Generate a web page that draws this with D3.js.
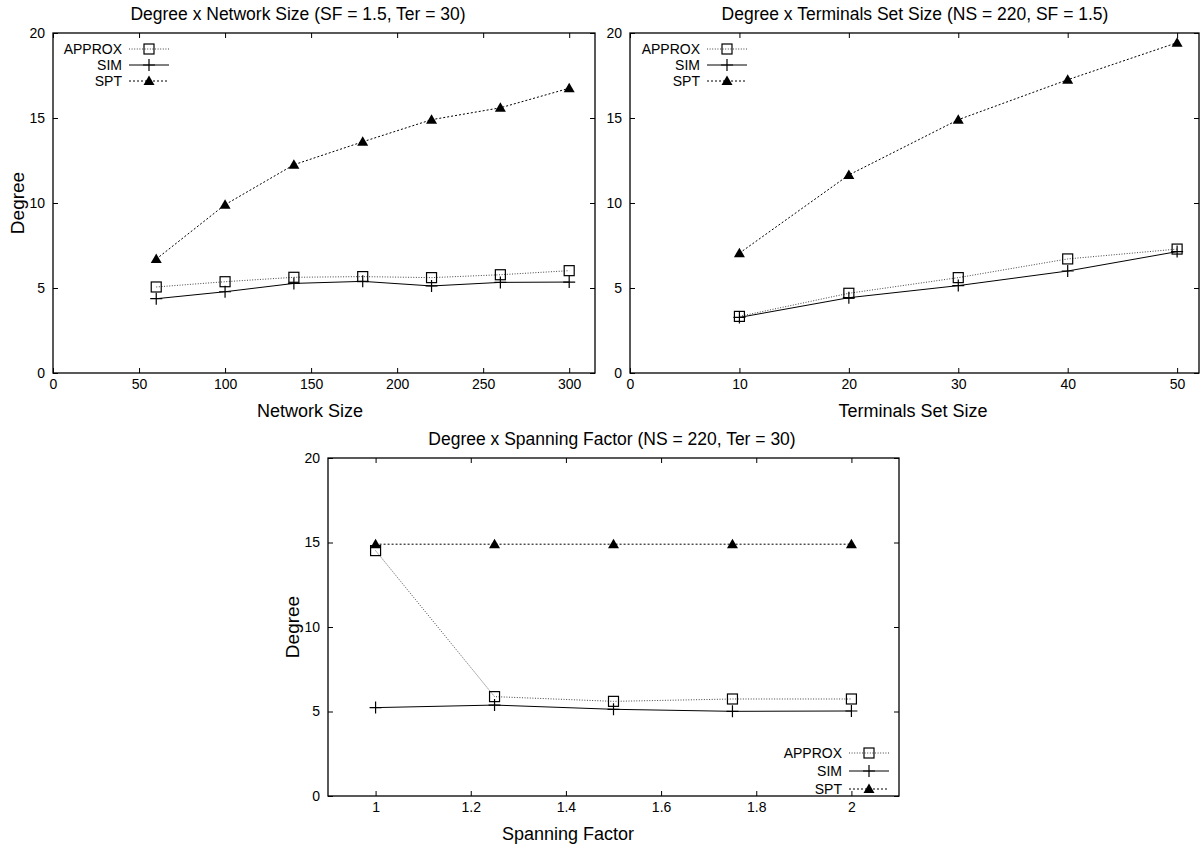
<!DOCTYPE html>
<html lang="en">
<head>
<meta charset="UTF-8">
<title>Degree charts</title>
<script src="https://d3js.org/d3.v7.min.js"></script>
<style>
    body { margin: 0; background: #fff; }
    svg { display: block; font-family: 'Liberation Sans', Arial, sans-serif; }
    .tick text { font-size: 14px; fill: #000; }
    .tick line { stroke: #000; }
</style>
</head>
<body>
<svg id="chart" width="1200" height="847"></svg>
<script>
// series names
const seriesNames = ["APPROX", "SIM", "SPT"];
const degreeTicks = [0, 5, 10, 15, 20];

// degree x network size
const netSize = [60, 100, 140, 180, 220, 260, 300];
const netApprox = [5.06, 5.37, 5.63, 5.67, 5.61, 5.78, 6.02];
const netSim = [4.37, 4.78, 5.27, 5.39, 5.12, 5.33, 5.35];
const netSpt = [6.7, 9.9, 12.25, 13.6, 14.9, 15.6, 16.75];
const netTicks = [0, 50, 100, 150, 200, 250, 300];

// degree x terminals set size
const terSize = [10, 20, 30, 40, 50];
const terApprox = [3.33, 4.69, 5.61, 6.71, 7.29];
const terSim = [3.27, 4.43, 5.14, 6.0, 7.14];
const terSpt = [7.05, 11.65, 14.9, 17.25, 19.43];
const terTicks = [0, 10, 20, 30, 40, 50];

// degree x spanning factor
const spanFactor = [1, 1.25, 1.5, 1.75, 2];
const spanApprox = [14.52, 5.88, 5.6, 5.74, 5.74];
const spanSim = [5.23, 5.38, 5.13, 5.01, 5.03];
const spanSpt = [14.9, 14.9, 14.9, 14.9, 14.9];
const spanTicks = [1, 1.2, 1.4, 1.6, 1.8, 2];

const svg = d3.select("#chart");

const styles = {
    APPROX: { stroke: "#444", dash: "1,1.6" },
    SIM: { stroke: "#000", dash: null },
    SPT: { stroke: "#000", dash: "2,2" }
};

function marker(g, name, x, y) {
    if (name === "APPROX") {
        g.append("rect").attr("x", x - 5).attr("y", y - 5).attr("width", 10).attr("height", 10)
            .attr("fill", "none").attr("stroke", "#000").attr("stroke-width", 1.2);
    } else if (name === "SIM") {
        g.append("path").attr("d", `M${x - 6},${y}H${x + 6}M${x},${y - 6}V${y + 6}`)
            .attr("stroke", "#000").attr("stroke-width", 1.2);
    } else {
        g.append("path").attr("d", `M${x},${y - 5.5}L${x + 5.5},${y + 4}L${x - 5.5},${y + 4}Z`)
            .attr("fill", "#000");
    }
}

function panel(cfg) {
    const { left, right, top, bottom } = cfg.box;
    const x = d3.scaleLinear().domain(cfg.xDomain).range([left, right]);
    const y = d3.scaleLinear().domain([0, 20]).range([bottom, top]);
    const g = svg.append("g");

    g.append("g").attr("transform", `translate(0,${bottom})`)
        .call(d3.axisBottom(x).tickValues(cfg.xTicks).tickSize(-5).tickPadding(6).tickFormat(d3.format("")))
        .call(a => a.select(".domain").remove());
    g.append("g").attr("transform", `translate(0,${top})`)
        .call(d3.axisTop(x).tickValues(cfg.xTicks).tickSize(-5).tickFormat(""))
        .call(a => a.select(".domain").remove());
    g.append("g").attr("transform", `translate(${left},0)`)
        .call(d3.axisLeft(y).tickValues(degreeTicks).tickSize(-5).tickPadding(8))
        .call(a => a.select(".domain").remove());
    g.append("g").attr("transform", `translate(${right},0)`)
        .call(d3.axisRight(y).tickValues(degreeTicks).tickSize(-5).tickFormat(""))
        .call(a => a.select(".domain").remove());
    g.selectAll(".tick text").attr("font-family", null).attr("font-size", null);

    g.append("rect").attr("x", left).attr("y", top).attr("width", right - left).attr("height", bottom - top)
        .attr("fill", "none").attr("stroke", "#000").attr("stroke-width", 1.3);

    g.append("text").attr("x", cfg.titleX).attr("y", top - 13).attr("text-anchor", "middle")
        .attr("font-size", 17.5).text(cfg.title);
    g.append("text").attr("x", cfg.xLabelX).attr("y", bottom + 44).attr("text-anchor", "middle")
        .attr("font-size", 18).text(cfg.xLabel);
    if (cfg.yLabelX != null) {
        g.append("text").attr("transform", `translate(${cfg.yLabelX},${(top + bottom) / 2}) rotate(-90)`)
            .attr("text-anchor", "middle").attr("font-size", 19).text("Degree");
    }

    const line = d3.line().x(d => x(d[0])).y(d => y(d[1]));
    // draw SPT first, then APPROX, then SIM on top
    [2, 0, 1].forEach(i => {
        const name = seriesNames[i];
        const pts = cfg.xs.map((v, k) => [v, cfg.series[i][k]]);
        g.append("path").datum(pts).attr("d", line).attr("fill", "none")
            .attr("stroke", styles[name].stroke).attr("stroke-width", 1)
            .attr("stroke-dasharray", styles[name].dash);
        const mg = g.append("g");
        pts.forEach(p => marker(mg, name, x(p[0]), y(p[1])));
    });

    // legend
    const L = cfg.legend;
    seriesNames.forEach((name, i) => {
        const ly = L.y + i * L.dy;
        g.append("text").attr("x", L.textRight).attr("y", ly).attr("dy", "0.35em")
            .attr("text-anchor", "end").attr("font-size", 14).text(name);
        g.append("line").attr("x1", L.textRight + 7).attr("x2", L.textRight + 47)
            .attr("y1", ly).attr("y2", ly)
            .attr("stroke", styles[name].stroke).attr("stroke-width", 1)
            .attr("stroke-dasharray", styles[name].dash);
        marker(g, name, L.textRight + 27, ly);
    });
}

panel({
    box: { left: 53, right: 595, top: 33, bottom: 373 },
    xDomain: [0, 315], xTicks: netTicks, xs: netSize,
    series: [netApprox, netSim, netSpt],
    title: "Degree x Network Size (SF = 1.5, Ter = 30)", titleX: 298,
    xLabel: "Network Size", xLabelX: 310, yLabelX: 24,
    legend: { textRight: 122, y: 49, dy: 16 }
});

panel({
    box: { left: 630, right: 1199, top: 33, bottom: 373 },
    xDomain: [0, 52], xTicks: terTicks, xs: terSize,
    series: [terApprox, terSim, terSpt],
    title: "Degree x Terminals Set Size (NS = 220, SF = 1.5)", titleX: 915,
    xLabel: "Terminals Set Size", xLabelX: 913, yLabelX: null,
    legend: { textRight: 700, y: 49, dy: 16 }
});

panel({
    box: { left: 328, right: 899, top: 458, bottom: 796 },
    xDomain: [0.9, 2.1], xTicks: spanTicks, xs: spanFactor,
    series: [spanApprox, spanSim, spanSpt],
    title: "Degree x Spanning Factor (NS = 220, Ter = 30)", titleX: 612,
    xLabel: "Spanning Factor", xLabelX: 568, yLabelX: 299,
    legend: { textRight: 842, y: 753, dy: 18 }
});
</script>
</body>
</html>
